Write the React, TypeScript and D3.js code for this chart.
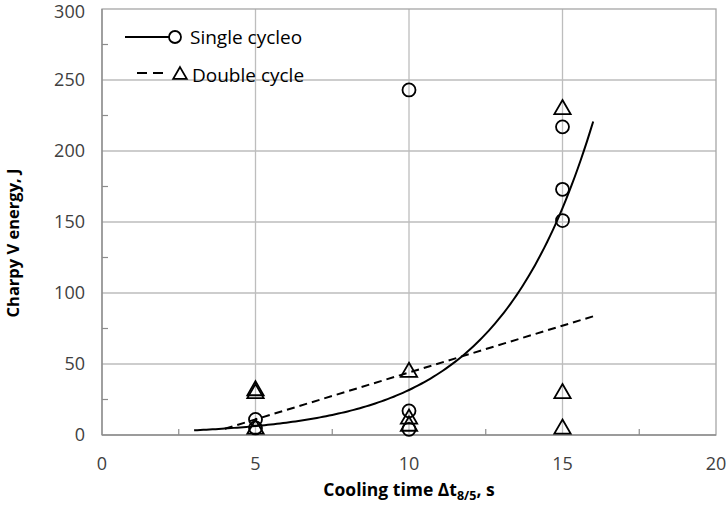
import * as d3 from 'd3';
import React from 'react';

const singleX = [5, 5, 10, 10, 10, 15, 15, 15];
const singleY = [11, 5, 243, 17, 4, 217, 173, 151];
const doubleX = [5, 5, 5, 10, 10, 10, 15, 15, 15];
const doubleY = [30, 32, 5, 45, 12, 7, 230, 30, 5];

const xTicks = [0, 5, 10, 15, 20];
const yTicks = [0, 50, 100, 150, 200, 250, 300];
// trendline extents (Excel forecast backward/forward)
const singleTrendRange = [3, 16];
const doubleTrendRange = [4, 16];

const width = 728, height = 524;
const margin = { top: 9, right: 12, bottom: 89, left: 102 };
const font = "'Open Sans', 'Noto Sans', sans-serif";

// least squares on ln(y) -> y = a*exp(b*x)
function expFit(xs: number[], ys: number[]) {
    const ly = ys.map(v => Math.log(v));
    const mx = d3.mean(xs) as number, my = d3.mean(ly) as number;
    let sxy = 0, sxx = 0;
    xs.forEach((x, i) => { sxy += (x - mx) * (ly[i] - my); sxx += (x - mx) * (x - mx); });
    const b = sxy / sxx;
    const a = Math.exp(my - b * mx);
    return (x: number) => a * Math.exp(b * x);
}

function linFit(xs: number[], ys: number[]) {
    const mx = d3.mean(xs) as number, my = d3.mean(ys) as number;
    let sxy = 0, sxx = 0;
    xs.forEach((x, i) => { sxy += (x - mx) * (ys[i] - my); sxx += (x - mx) * (x - mx); });
    const b = sxy / sxx;
    const a = my - b * mx;
    return (x: number) => a + b * x;
}

export default function App() {
    const x = d3.scaleLinear().domain([0, 20]).range([margin.left, width - margin.right]);
    const y = d3.scaleLinear().domain([0, 300]).range([height - margin.bottom, margin.top]);

    const fSingle = expFit(singleX, singleY);
    const fDouble = linFit(doubleX, doubleY);

    const singlePts: [number, number][] = d3.range(singleTrendRange[0], singleTrendRange[1] + 0.001, 0.1)
        .map(t => [t, fSingle(t)]);
    const doublePts: [number, number][] = [doubleTrendRange[0], doubleTrendRange[1]].map(t => [t, fDouble(t)]);
    const path = d3.line<[number, number]>().x(d => x(d[0])).y(d => y(d[1]));

    const tri = d3.symbol().type(d3.symbolTriangle).size(115)() as string;
    const minorY = d3.range(25, 300, 50);
    const minorX = d3.range(2.5, 20, 5);
    const x0 = x(0), x1 = x(20), y0 = y(0), y1 = y(300);

    return (
        <svg width={width} height={height} style={{ position: 'absolute', left: 0, top: 0 }}>
            <rect width={width} height={height} fill="#fff" />
            {/* gridlines */}
            {yTicks.slice(1, -1).map(t => (
                <line key={'gy' + t} x1={x0} x2={x1} y1={y(t)} y2={y(t)} stroke="#bdbdbd" strokeWidth={1.3} />
            ))}
            {xTicks.slice(1, -1).map(t => (
                <line key={'gx' + t} x1={x(t)} x2={x(t)} y1={y0} y2={y1} stroke="#bdbdbd" strokeWidth={1.3} />
            ))}
            <rect x={x0} y={y1} width={x1 - x0} height={y0 - y1} fill="none" stroke="#a6a6a6" strokeWidth={1.3} />
            <line x1={x0} x2={x0} y1={y0} y2={y1} stroke="#8c8c8c" strokeWidth={1.3} />
            <line x1={x0} x2={x1} y1={y0} y2={y0} stroke="#8c8c8c" strokeWidth={1.3} />
            {minorY.map(t => (
                <line key={'my' + t} x1={x0} x2={x0 + 6} y1={y(t)} y2={y(t)} stroke="#8c8c8c" strokeWidth={1.2} />
            ))}
            {minorX.map(t => (
                <line key={'mx' + t} x1={x(t)} x2={x(t)} y1={y0} y2={y0 - 6} stroke="#8c8c8c" strokeWidth={1.2} />
            ))}
            {/* tick labels */}
            {yTicks.map(t => (
                <text key={'ly' + t} x={x0 - 17} y={t === 300 ? y(t) + 3 : y(t)} dy="0.36em" textAnchor="end"
                    fontFamily={font} fontSize={18} fill="#404040">{t}</text>
            ))}
            {xTicks.map(t => (
                <text key={'lx' + t} x={x(t)} y={y0 + 29} dy="0.36em" textAnchor="middle"
                    fontFamily={font} fontSize={18} fill="#404040">{t}</text>
            ))}
            {/* axis titles */}
            <text x={(x0 + x1) / 2} y={490} dy="0.36em" textAnchor="middle" fontFamily={font}
                fontSize={17.5} fontWeight="bold" fill="#000">
                Cooling time Δt<tspan fontSize={12.5} dy="4">8/5</tspan><tspan dy="-4">, s</tspan>
            </text>
            <text transform={`translate(13,243) rotate(-90)`} dy="0.36em" textAnchor="middle" fontFamily={font}
                fontSize={16.5} fontWeight="bold" fill="#000">Charpy V energy, J</text>
            {/* trendlines */}
            <path d={path(singlePts) as string} fill="none" stroke="#000" strokeWidth={2} />
            <path d={path(doublePts) as string} fill="none" stroke="#000" strokeWidth={2} strokeDasharray="8,5" />
            {/* markers */}
            {singleX.map((v, i) => (
                <circle key={'c' + i} cx={x(v)} cy={y(singleY[i])} r={6.5} fill="none" stroke="#000" strokeWidth={1.8} />
            ))}
            {doubleX.map((v, i) => (
                <path key={'t' + i} d={tri} transform={`translate(${x(v)},${y(doubleY[i]) + 1})`}
                    fill="none" stroke="#000" strokeWidth={1.8} />
            ))}
            {/* legend */}
            <line x1={125} x2={169} y1={37} y2={37} stroke="#000" strokeWidth={2} />
            <circle cx={175} cy={37} r={6} fill="#fff" stroke="#000" strokeWidth={1.8} />
            <text x={190} y={37} dy="0.36em" fontFamily={font} fontSize={19} fill="#000">Single cycleo</text>
            <line x1={137} x2={168} y1={73} y2={73} stroke="#000" strokeWidth={2} strokeDasharray="10,6" />
            <path d={d3.symbol().type(d3.symbolTriangle).size(80)() as string} transform="translate(180,75)"
                fill="#fff" stroke="#000" strokeWidth={1.8} />
            <text x={192} y={75} dy="0.36em" fontFamily={font} fontSize={19} fill="#000">Double cycle</text>
        </svg>
    );
}
